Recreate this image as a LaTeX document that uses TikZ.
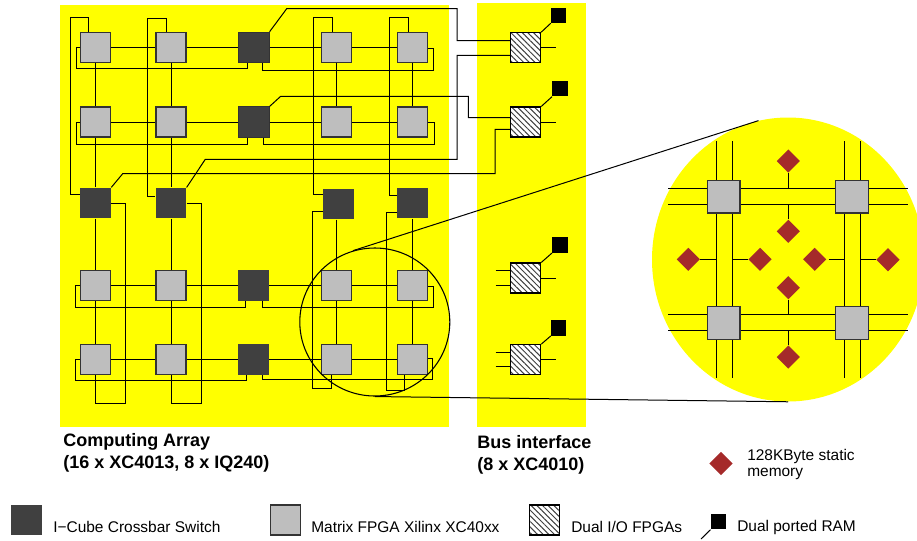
\documentclass[tikz,border=0pt]{standalone}
\usepackage{fontspec}
\setmainfont{Liberation Sans}
\usetikzlibrary{calc,patterns.meta,shapes.geometric}
\definecolor{panelyellow}{RGB}{255,255,0}
\definecolor{fpgagray}{HTML}{BEBEBE}
\definecolor{switchgray}{HTML}{404040}
\definecolor{membrown}{HTML}{A52A2A}
\tikzset{
	fpgabox/.style={rectangle, draw=black!80, line width=0.9pt, fill=fpgagray, minimum size=22.5pt, inner sep=0},
	switchbox/.style={rectangle, fill=switchgray, minimum size=23pt, inner sep=0},
	iobox/.style={rectangle, draw=black, line width=0.8pt, minimum size=22.5pt, inner sep=0,
		preaction={fill=white}, pattern={Lines[angle=-45,distance=3pt,line width=0.75pt]}, pattern color=black!75},
	rambox/.style={rectangle, fill=black, minimum size=11.5pt, inner sep=0},
	membox/.style={diamond, fill=membrown, minimum size=17.5pt, inner sep=0},
	detailbox/.style={fpgabox, minimum size=24.2pt},
	wire/.style={draw=black, line width=0.75pt},
	titletext/.style={font=\fontsize{13.5}{16.5}\selectfont\bfseries, align=left, anchor=west, inner sep=0},
	legendtext/.style={font=\fontsize{11.6}{12}\selectfont, align=left, anchor=west, inner sep=0}
}
\begin{document}
\begin{tikzpicture}[x=0.75pt, y=-0.75pt]
				\useasboundingbox (0,0) rectangle (917,540);
				\clip (0,0) rectangle (917,540);
				\fill [panelyellow] (60,5) rectangle (449,427);
				\fill [panelyellow] (477,3) rectangle (586,427);
				\node (big) at (788,259.5) [ellipse, fill=panelyellow, minimum width=204pt, minimum height=213pt, inner sep=0] {};

				\node (n11) at (95.7,47.3) [fpgabox] {};
				\node (n12) at (171,47.3) [fpgabox] {};
				\node (d13) at (254,47.3) [switchbox, draw=black!80] {};
				\node (n14) at (336.7,47.3) [fpgabox] {};
				\node (n15) at (412.3,47.3) [fpgabox] {};
				\node (n21) at (95.7,122) [fpgabox] {};
				\node (n22) at (171,122) [fpgabox] {};
				\node (d23) at (254,122) [switchbox, draw=black!80] {};
				\node (n24) at (336.7,122) [fpgabox] {};
				\node (n25) at (412.3,122) [fpgabox] {};
				\node (d31) at (95.7,203) [switchbox] {};
				\node (d32) at (171,203) [switchbox] {};
				\node (d34) at (338.5,204) [switchbox] {};
				\node (d35) at (412.3,203) [switchbox] {};
				\node (n41) at (95.7,285.3) [fpgabox] {};
				\node (n42) at (171,285.3) [fpgabox] {};
				\node (d43) at (253.5,285.3) [switchbox] {};
				\node (n44) at (336.7,285.3) [fpgabox] {};
				\node (n45) at (412.3,285.3) [fpgabox] {};
				\node (n51) at (95.7,359.5) [fpgabox] {};
				\node (n52) at (171,359.5) [fpgabox] {};
				\node (d53) at (253.5,359.5) [switchbox] {};
				\node (n54) at (336.7,359.5) [fpgabox] {};
				\node (n55) at (412.3,359.5) [fpgabox] {};

				\node (h1) at (525.7,47.7) [iobox] {};
				\node (h2) at (525.7,122) [iobox] {};
				\node (h3) at (525.7,278) [iobox] {};
				\node (h4) at (525.7,359.7) [iobox] {};
				\node (r1) at (558.7,15.3) [rambox] {};
				\node (r2) at (560,88.7) [rambox] {};
				\node (r3) at (560,245) [rambox] {};
				\node (r4) at (558.7,328) [rambox] {};
				\coordinate (s1) at (555.7,47.7);
				\coordinate (s2) at (555.7,122);
				\coordinate (s3) at (555.7,278);
				\coordinate (s4) at (555.7,359.7);
				\coordinate (t1) at (495.7,270.3);
				\coordinate (t2) at (495.7,285.3);
				\coordinate (t3) at (495.7,352);
				\coordinate (t4) at (495.7,366.7);

				\draw [wire] (n11) -- (n12);
				\draw [wire] (n12) -- (d13);
				\draw [wire] (d13) -- (n14);
				\draw [wire] (n14) -- (n15);
				\draw [wire] (n21) -- (n22);
				\draw [wire] (n22) -- (d23);
				\draw [wire] (d23) -- (n24);
				\draw [wire] (n24) -- (n25);
				\draw [wire] (n41) -- (n42);
				\draw [wire] (n42) -- (d43);
				\draw [wire] (d43) -- (n44);
				\draw [wire] (n44) -- (n45);
				\draw [wire] (n51) -- (n52);
				\draw [wire] (n52) -- (d53);
				\draw [wire] (d53) -- (n54);
				\draw [wire] (n54) -- (n55);

				\draw [wire] (n11) -- (n21);
				\draw [wire] (n21) -- (d31);
				\draw [wire] (d31) -- (n41);
				\draw [wire] (n41) -- (n51);
				\draw [wire] (n12) -- (n22);
				\draw [wire] (n22) -- (d32);
				\draw [wire] (d32) -- (n42);
				\draw [wire] (n42) -- (n52);
				\draw [wire] (n14) -- (n24);
				\draw [wire] (n15) -- (n25);
				\draw [wire] (d34.south -| n44) -- (n44);
				\draw [wire] (n44) -- (n54);
				\draw [wire] (d35) -- (n45);
				\draw [wire] (n45) -- (n55);

				\draw [wire] ($(n11.north)+(-7,0)$) |- (70,17) |- ($(d31.west)+(0,-9)$);
				\draw [wire] ($(n12.north)+(-4.7,0)$) |- (147.7,18.3) |- ($(d32.west)+(0,-7)$);
				\draw [wire] ($(n14.north)+(-4.4,0)$) |- (313.3,17) |- ($(d34.west)+(0,-10)$);
				\draw [wire] ($(n15.north)+(-4,0)$) |- (389.7,17.7) |- ($(d35.west)+(0,-8)$);

				\draw [wire] (n11.west) -| (76.3,68) -| ($(d13.south)+(-7,0)$);
				\draw [wire] (n21.west) -| (76.3,144.7) -| ($(d23.south)+(-7,0)$);
				\draw [wire] (n41.west) -| (75,307.3) -| ($(d43.south)+(-8,0)$);
				\draw [wire] (n51.west) -| (75.7,380) -| ($(d53.south)+(-7,0)$);
				\draw [wire] ($(d13.south)+(8.7,0)$) |- (433.3,70) |- ($(n15.east)+(0,1)$);
				\draw [wire] ($(d23.south)+(9.3,0)$) |- (434,144) |- ($(n25.east)+(0,0.7)$);
				\draw [wire] ($(d43.south)+(9,0)$) |- (433.3,307.3) |- ($(n45.east)+(0,1)$);
				\draw [wire] ($(d53.south)+(8.5,0)$) |- (432.7,379.3) |- ($(n55.east)+(0,-1.4)$);

				\draw [wire] (d31.east) -| (125.7,403.7) -| (n51.south);
				\draw [wire] (d32.east) -| (201.3,403.7) -| (n52.south);
				\draw [wire] ($(d34.west)+(0,7)$) -| (312.7,388.3) -| ($(n54.south)+(-5.5,0)$);
				\draw [wire] ($(d35.west)+(0,9)$) -| (386,390) -| ($(n55.south)+(-7.5,0)$);

				\draw [wire] (d13.north east) -- (286.7,8.7) -| (457,40.7) -- (h1.west |- 457,40.7);
				\draw [wire] (d32.north east) -- (205.3,159.3) -| (457,55.3) -- (h1.west |- 457,55.3);
				\draw [wire] (d23.north east) -- (280.7,96.3) -| (468.3,117.7) -- (h2.west |- 468.3,117.7);
				\draw [wire] (d31.north east) -- (122.7,173.7) -| (495,129.3) -- (h2.west |- 495,129.3);

				\draw [wire] (h1.east) -- (s1);
				\draw [wire] (h2.east) -- (s2);
				\draw [wire] (h3.east) -- (s3);
				\draw [wire] (h4.east) -- (s4);
				\draw [wire] (t1) -- (h3.west |- t1);
				\draw [wire] (t2) -- (h3.west |- t2);
				\draw [wire] (t3) -- (h4.west |- t3);
				\draw [wire] (t4) -- (h4.west |- t4);
				\draw [wire] (h1.north east) -- (r1.south west);
				\draw [wire] (h2.north east) -- (r2.south west);
				\draw [wire] (h3.north east) -- (r3.south west);
				\draw [wire] (h4.north east) -- (r4.south west);

				\node (lens) at (374.8,322) [ellipse, draw=black, line width=0.8pt, minimum width=112.5pt, minimum height=111pt, inner sep=0] {};
				\draw [wire] (lens.107) -- (big.102.6);
				\draw [wire] (lens.south) -- (big.south);

				\coordinate (ha) at (668.3,188.7);
				\coordinate (hb) at (668.3,204.3);
				\coordinate (hc) at (668.3,314.3);
				\coordinate (hd) at (668.3,330.3);
				\coordinate (va) at (716.3,141);
				\coordinate (vb) at (732.3,141);
				\coordinate (vc) at (844.3,141);
				\coordinate (vd) at (860.3,141);
				\draw [wire] (ha) -- (908.3,188.7);
				\draw [wire] (hb) -- (908.3,204.3);
				\draw [wire] (hc) -- (908.3,314.3);
				\draw [wire] (hd) -- (908.3,330.3);
				\draw [wire] (va) -- (716.3,377.7);
				\draw [wire] (vb) -- (732.3,377.7);
				\draw [wire] (vc) -- (844.3,377.7);
				\draw [wire] (vd) -- (860.3,377.7);
				\node (f1) at (723.8,196.8) [detailbox] {};
				\node (f2) at (852,196.8) [detailbox] {};
				\node (f3) at (723.8,323) [detailbox] {};
				\node (f4) at (852,323) [detailbox] {};
				\node (m1) at (788.3,161) [membox] {};
				\node (m2) at (788.3,231.3) [membox] {};
				\node (m3) at (788.3,287.7) [membox] {};
				\node (m4) at (788.3,357) [membox] {};
				\node (m5) at (688.3,259.3) [membox] {};
				\node (m6) at (760,259.3) [membox] {};
				\node (m7) at (814.7,259.3) [membox] {};
				\node (m8) at (888,259.7) [membox] {};
				\draw [wire] (m1) -- (m1 |- ha);
				\draw [wire] (m2) -- (m2 |- hb);
				\draw [wire] (m3) -- (m3 |- hc);
				\draw [wire] (m4) -- (m4 |- hd);
				\draw [wire] (m5) -- (m5 -| va);
				\draw [wire] (m6) -- (m6 -| vb);
				\draw [wire] ($(m7.east)+(2,0)$) -- (m7 -| vc);
				\draw [wire] (m8) -- (m8 -| vd);

				\node (title1) at (63,452.5) [titletext] {Computing Array\\(16 x XC4013, 8 x IQ240)};
				\node (title2) at (477,454.5) [titletext] {Bus interface\\(8 x XC4010)};
				\node (m9) at (721,463.5) [membox] {};
				\node (memtext) at (747,464) [legendtext] {128KByte static\\memory};

				\node (k1) at (26.5,520) [switchbox] {};
				\node (k1text) at (53,527) [legendtext] {I−Cube Crossbar Switch};
				\node (k2) at (285.5,520) [fpgabox] {};
				\node (k2text) at (311,527) [legendtext] {Matrix FPGA Xilinx XC40xx};
				\node (k3) at (544.5,520) [iobox] {};
				\node (k3text) at (571,527) [legendtext] {Dual I/O FPGAs};
				\node (k4) at (718.5,521.7) [rambox] {};
				\node (k4text) at (737,527) [legendtext] {Dual ported RAM};
				\coordinate (k4end) at (701,539);
				\draw [wire] (k4.south west) -- (k4end);
\end{tikzpicture}
\end{document}
